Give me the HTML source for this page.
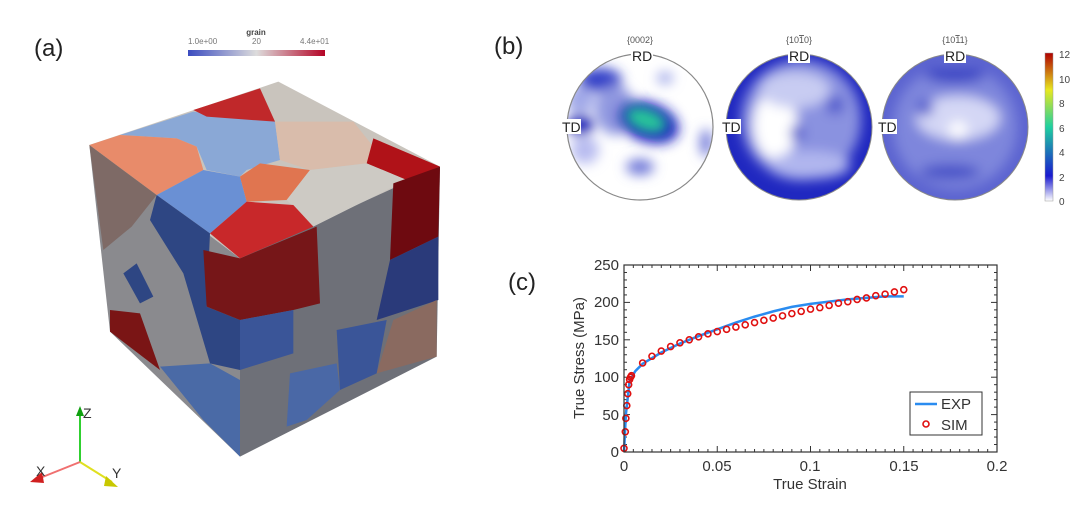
<!DOCTYPE html>
<html><head><meta charset="utf-8"><style>
html,body{margin:0;padding:0;background:#fff;}
svg{display:block;font-family:"Liberation Sans",sans-serif;}
</style></head><body>
<svg id="s" width="1080" height="513" viewBox="0 0 1080 513" xmlns="http://www.w3.org/2000/svg">
<defs>
<linearGradient id="cw" x1="0" x2="1" y1="0" y2="0">
<stop offset="0" stop-color="#3b4cc0"/><stop offset="0.5" stop-color="#dddcdc"/><stop offset="1" stop-color="#b40426"/></linearGradient>
<linearGradient id="jet" x1="0" x2="0" y1="1" y2="0">
<stop offset="0" stop-color="#ffffff"/><stop offset="0.17" stop-color="#1a1ad0"/><stop offset="0.5" stop-color="#1fd0a0"/><stop offset="0.75" stop-color="#e8e820"/><stop offset="1" stop-color="#b00000"/></linearGradient>
<filter id="bl" x="-20%" y="-20%" width="140%" height="140%"><feGaussianBlur stdDeviation="6"/></filter>
<clipPath id="c1"><circle cx="640" cy="127" r="73"/></clipPath>
<clipPath id="c2"><circle cx="799" cy="127" r="73"/></clipPath>
<clipPath id="c3"><circle cx="955" cy="127" r="73"/></clipPath>
</defs>
<text x="34" y="56" font-size="24" fill="#222">(a)</text>
<text x="494" y="54" font-size="24" fill="#222">(b)</text>
<text x="508" y="290" font-size="24" fill="#222">(c)</text>
<!-- colorbar a -->
<text x="256" y="35" font-size="8" fill="#444" text-anchor="middle" font-weight="bold">grain</text>
<text x="188" y="44" font-size="8" fill="#777">1.0e+00</text>
<text x="252" y="44" font-size="8" fill="#777">20</text>
<text x="300" y="44" font-size="8" fill="#777">4.4e+01</text>
<rect x="188" y="50" width="137" height="6" fill="url(#cw)"/>
<!-- cube -->
<g transform="translate(60,20) scale(0.33333)">
<polygon points="655,185 88,375 540,715 1140,440" fill="#c9c4bd"/>
<polygon points="88,375 540,715 540,1310 150,935" fill="#8a8a8e"/>
<polygon points="540,715 1140,440 1130,1010 540,1310" fill="#6e7078"/>
<polygon points="180,345 400,275 645,305 660,420 560,450 540,470 440,450 410,380 350,355" fill="#8aa8d6"/>
<polygon points="400,270 600,205 645,305 440,290" fill="#c0282a"/>
<polygon points="88,375 180,345 350,355 410,380 430,450 290,525" fill="#e88b6a"/>
<polygon points="290,525 430,450 540,470 560,545 450,640" fill="#6a90d4"/>
<polygon points="540,470 600,430 750,450 680,540 560,545" fill="#e07550"/>
<polygon points="645,305 880,305 940,380 920,430 750,450 660,420" fill="#d9bcab"/>
<polygon points="940,355 1140,440 1040,480 920,430" fill="#b01218"/>
<polygon points="680,540 750,450 920,430 1040,480 760,620" fill="#cdcac4"/>
<polygon points="450,640 540,715 760,620 700,555 560,545" fill="#c8282a"/>
<polygon points="88,375 290,525 215,620 130,690" fill="#7e6a66"/>
<polygon points="290,525 450,640 440,860 540,900 540,1050 450,1030 370,760 270,600" fill="#2e4683"/>
<polygon points="430,690 540,715 770,620 780,850 700,870 540,900 440,860" fill="#761618"/>
<polygon points="190,760 230,730 280,830 240,850" fill="#2e4683"/>
<polygon points="150,870 240,880 300,1050 150,935" fill="#7a1515"/>
<polygon points="300,1040 450,1030 540,1080 540,1310 430,1200" fill="#4a6aa6"/>
<polygon points="1000,490 1140,440 1135,650 990,720" fill="#6e0a10"/>
<polygon points="990,720 1135,650 1135,840 950,900" fill="#2a3a7a"/>
<polygon points="950,1060 1000,900 1130,840 1130,1010" fill="#8a6a60"/>
<polygon points="830,930 980,900 950,1060 840,1110" fill="#3a5598"/>
<polygon points="690,1060 830,1030 840,1110 740,1200 680,1220" fill="#4a68a6"/>
<polygon points="540,900 700,870 700,1000 540,1050" fill="#3a5598"/>
</g>
<!-- triad -->
<line x1="80" y1="462" x2="80" y2="412" stroke="#30d030" stroke-width="2"/>
<polygon points="76,416 84,416 80,406" fill="#10a010"/>
<text x="83" y="418" font-size="14" fill="#333">Z</text>
<line x1="80" y1="462" x2="112" y2="482" stroke="#e0e020" stroke-width="2"/>
<polygon points="106,476 118,487 104,486" fill="#c8c800"/>
<text x="112" y="478" font-size="14" fill="#333">Y</text>
<line x1="80" y1="462" x2="40" y2="478" stroke="#f07070" stroke-width="2"/>
<polygon points="42,472 30,482 44,483" fill="#d02020"/>
<text x="36" y="476" font-size="14" fill="#333">X</text>
<!-- pole figures -->
<g clip-path="url(#c1)"><rect x="560" y="50" width="160" height="160" fill="#fff"/>
<g filter="url(#bl)">
<ellipse cx="600" cy="80" rx="22" ry="12" fill="#3040c8"/>
<ellipse cx="580" cy="125" rx="14" ry="10" fill="#1a22b8"/>
<ellipse cx="580" cy="100" rx="14" ry="14" fill="#a0a8e8"/>
<ellipse cx="585" cy="150" rx="14" ry="14" fill="#b8bcf0"/>
<ellipse cx="615" cy="110" rx="20" ry="25" fill="#9098e0"/>
<ellipse cx="640" cy="167" rx="14" ry="8" fill="#7078d8"/>
<ellipse cx="706" cy="143" rx="6" ry="14" fill="#7078d8"/>
<ellipse cx="665" cy="78" rx="8" ry="6" fill="#a0a8e8"/>
<ellipse cx="648" cy="122" rx="32" ry="20" fill="#1a22c0" transform="rotate(20 648 122)"/>
</g>
<ellipse cx="646" cy="120" rx="22" ry="12" fill="#28c49a" filter="url(#bl)" transform="rotate(20 646 120)"/>
</g>
<circle cx="640" cy="127" r="73" fill="none" stroke="#888" stroke-width="1.2"/>
<g clip-path="url(#c2)"><rect x="720" y="50" width="160" height="160" fill="#2028c0"/>
<g filter="url(#bl)">
<circle cx="801" cy="120" r="60" fill="#8a92e0"/>
<ellipse cx="775" cy="125" rx="22" ry="35" fill="#fff"/>
<ellipse cx="795" cy="90" rx="35" ry="18" fill="#c8ccf2"/>
<ellipse cx="810" cy="165" rx="40" ry="14" fill="#b0b6ee"/>
<circle cx="797" cy="133" r="7" fill="#4048c8"/>
<circle cx="835" cy="105" r="9" fill="#5058cc"/>
</g></g>
<circle cx="799" cy="127" r="73" fill="none" stroke="#888" stroke-width="1"/>
<g clip-path="url(#c3)"><rect x="880" y="50" width="160" height="160" fill="#5c64d0"/>
<g filter="url(#bl)">
<circle cx="955" cy="127" r="62" fill="#7e86dc"/>
<ellipse cx="958" cy="118" rx="42" ry="22" fill="#d4d7f5"/>
<circle cx="958" cy="130" r="9" fill="#fff"/>
<circle cx="925" cy="108" r="8" fill="#5058cc"/>
<ellipse cx="955" cy="75" rx="30" ry="8" fill="#3a44c4"/>
<ellipse cx="950" cy="172" rx="30" ry="8" fill="#4a52c8"/>
</g></g>
<circle cx="955" cy="127" r="73" fill="none" stroke="#888" stroke-width="1"/>
<g font-size="9" fill="#555" text-anchor="middle">
<text x="640" y="43">{0002}</text><text x="799" y="43">{10<tspan text-decoration="overline">1</tspan>0}</text><text x="955" y="43">{10<tspan text-decoration="overline">1</tspan>1}</text></g>
<g font-size="14" fill="#222">
<rect x="631" y="48" width="22" height="15" fill="#fff"/><text x="632" y="61">RD</text>
<rect x="788" y="48" width="22" height="15" fill="#fff"/><text x="789" y="61">RD</text>
<rect x="944" y="48" width="22" height="15" fill="#fff"/><text x="945" y="61">RD</text>
<rect x="561" y="119" width="20" height="15" fill="#fff"/><text x="562" y="132">TD</text>
<rect x="721" y="119" width="20" height="15" fill="#fff"/><text x="722" y="132">TD</text>
<rect x="877" y="119" width="20" height="15" fill="#fff"/><text x="878" y="132">TD</text>
</g>
<rect x="1045" y="53" width="8" height="148" fill="url(#jet)" stroke="#999" stroke-width="0.5"/>
<g font-size="10" fill="#444">
<text x="1059" y="58">12</text><text x="1059" y="83">10</text><text x="1059" y="107">8</text><text x="1059" y="132">6</text><text x="1059" y="156">4</text><text x="1059" y="181">2</text><text x="1059" y="205">0</text></g>
<!-- chart -->
<g id="chart"></g>
<rect x="624" y="265" width="373" height="187" fill="none" stroke="#333" stroke-width="1.2"/>
<g font-size="15" fill="#333" text-anchor="end">
<text x="619" y="457">0</text><text x="619" y="420">50</text><text x="619" y="382">100</text><text x="619" y="345">150</text><text x="619" y="307">200</text><text x="619" y="270">250</text></g>
<g font-size="15" fill="#333" text-anchor="middle">
<text x="624" y="471">0</text><text x="717" y="471">0.05</text><text x="810" y="471">0.1</text><text x="904" y="471">0.15</text><text x="997" y="471">0.2</text>
<text x="810" y="489">True Strain</text></g>
<text x="0" y="0" font-size="15" fill="#333" text-anchor="middle" transform="translate(584,358) rotate(-90)">True Stress (MPa)</text>
<rect x="910" y="392" width="72" height="43" fill="#fff" stroke="#333" stroke-width="1"/>
<line x1="915" y1="404" x2="937" y2="404" stroke="#2a8cf0" stroke-width="2.5"/>
<text x="941" y="409" font-size="15" fill="#333">EXP</text>
<circle cx="926" cy="424" r="3" fill="none" stroke="#e01010" stroke-width="1.6"/>
<text x="941" y="430" font-size="15" fill="#333">SIM</text>
</svg>
<script>
var g=document.getElementById('chart');
function X(s){return 624+s*1865;}function Y(v){return 452-v*0.748;}
var h='';
for(var i=0;i<=40;i++){var x=X(i*0.005),L=(i%10==0)?6:3;h+='<line x1="'+x+'" y1="452" x2="'+x+'" y2="'+(452-L)+'" stroke="#333"/><line x1="'+x+'" y1="265" x2="'+x+'" y2="'+(265+L)+'" stroke="#333"/>';}
for(var j=0;j<=25;j++){var y=Y(j*10),L=(j%5==0)?6:3;h+='<line x1="624" y1="'+y+'" x2="'+(624+L)+'" y2="'+y+'" stroke="#333"/><line x1="997" y1="'+y+'" x2="'+(997-L)+'" y2="'+y+'" stroke="#333"/>';}
var e=[[0,0],[0.001,50],[0.003,95],[0.006,108],[0.01,118],[0.02,133],[0.03,145],[0.04,155],[0.05,164],[0.06,173],[0.07,181],[0.08,188],[0.09,194],[0.1,198],[0.11,201],[0.12,204],[0.13,206],[0.14,208],[0.15,208]];
var p=e.map(function(a){return X(a[0])+','+Y(a[1]);}).join(' ');
h+='<polyline points="'+p+'" fill="none" stroke="#2a8cf0" stroke-width="2.5"/>';
var s=[[0,5],[0.0007,27],[0.001,45],[0.0015,62],[0.002,78],[0.0025,90],[0.003,97],[0.0035,100],[0.004,102]];
var v=[119,128,135,141,146,150,154,158,161,164,167,170,173,176,179,182,185,188,191,193,196,199,201,204,206,209,211,214,217];
for(var k=0;k<v.length;k++)s.push([0.01+k*0.005,v[k]]);
s.forEach(function(a){h+='<circle cx="'+X(a[0])+'" cy="'+Y(a[1])+'" r="3" fill="none" stroke="#e01010" stroke-width="1.6"/>';});
g.innerHTML=h;
</script>
</body></html>
